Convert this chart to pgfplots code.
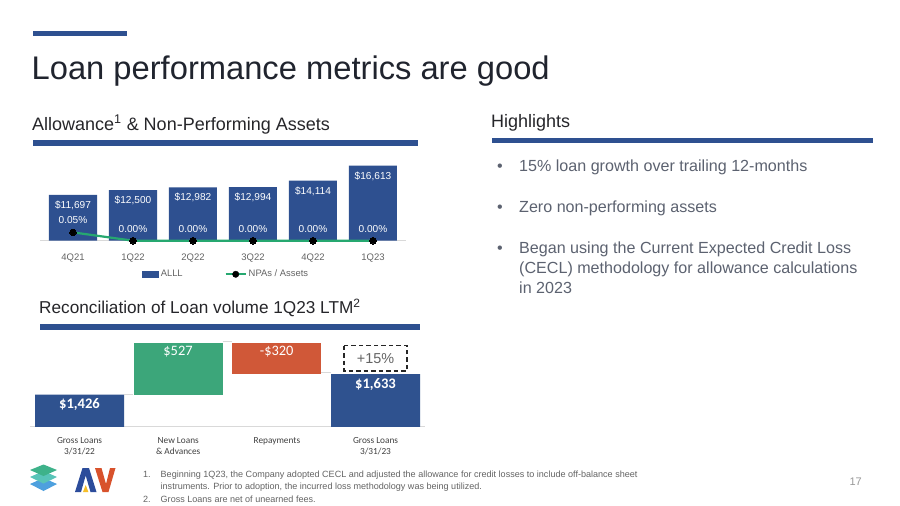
\documentclass[border=0pt]{standalone}
\usepackage{fontspec}
\setmainfont{Liberation Sans}
\newfontfamily\carlito{Carlito}
\usepackage{pgfplots}
\pgfplotsset{compat=1.18}

\definecolor{navy}{RGB}{46,80,144}
\definecolor{wfblue}{RGB}{47,82,143}
\definecolor{wfgreen}{RGB}{60,166,122}
\definecolor{wforange}{RGB}{208,88,56}
\definecolor{linegreen}{RGB}{38,168,112}
\definecolor{titlecol}{RGB}{32,36,46}
\definecolor{headcol}{RGB}{38,38,42}
\definecolor{tickgrey}{RGB}{100,100,100}
\definecolor{bulletcol}{RGB}{92,98,112}
\definecolor{wflab}{RGB}{64,64,64}
\definecolor{axgrey}{RGB}{217,217,217}
\definecolor{stackgreen}{RGB}{62,178,138}
\definecolor{stackteal}{RGB}{88,196,184}
\definecolor{stackblue}{RGB}{78,160,222}
\definecolor{logoblue}{RGB}{44,76,155}
\definecolor{logoorange}{RGB}{216,82,44}
\definecolor{logoyellow}{RGB}{246,190,40}

\newcommand{\fs}[1]{\fontsize{#1}{1.2\dimexpr #1pt\relax}\selectfont}

\begin{document}
\begin{tikzpicture}
% ---------- decoration and text (pixel coordinates, y downwards) ----------
\begin{scope}[x=1pt,y=-1pt]
\path[use as bounding box] (0,0) rectangle (900,506);
\fill[white] (0,0) rectangle (900,506);
% top bar and title
\fill[navy] (33,31) rectangle (127,36);
\node[anchor=base west, inner sep=0, text=titlecol, font=\fs{32.7}] at (31.5,79) {Loan performance metrics are good};
% section headers
\node[anchor=base west, inner sep=0, text=headcol, font=\fs{18}] at (32,130) {Allowance\textsuperscript{1} \& Non-Performing Assets};
\fill[navy] (33,140) rectangle (418,145.5);
\node[anchor=base west, inner sep=0, text=headcol, font=\fs{18}] at (491,127) {Highlights};
\fill[navy] (492,137.7) rectangle (873,143.2);
\node[anchor=base west, inner sep=0, text=headcol, font=\fs{17.2}] at (39,313.3) {Reconciliation of Loan volume 1Q23 LTM\textsuperscript{2}};
\fill[navy] (40,324.3) rectangle (420,329.8);
% bullets
\begin{scope}[every node/.style={anchor=base west, inner sep=0, text=bulletcol, font=\fs{16.1}}]
\node at (497,171.7) {•};
\node at (519,171.7) {15\% loan growth over trailing 12-months};
\node at (497,212.3) {•};
\node at (519,212.3) {Zero non-performing assets};
\node at (497,253.3) {•};
\node at (519,253.3) {Began using the Current Expected Credit Loss};
\node at (519,273.3) {(CECL) methodology for allowance calculations};
\node at (519,293.3) {in 2023};
\end{scope}
% footnotes
\begin{scope}[every node/.style={anchor=base west, inner sep=0, text=tickgrey, font=\fs{9.05}}]
\node at (143,477) {1.};
\node at (160.5,477) {Beginning 1Q23, the Company adopted CECL and adjusted the allowance for credit losses to include off-balance sheet};
\node at (160.5,489.5) {instruments. Prior to adoption, the incurred loss methodology was being utilized.};
\node at (143,502) {2.};
\node at (160.5,502) {Gross Loans are net of unearned fees.};
\end{scope}
\node[anchor=base east, inner sep=0, text=black!40, font=\fs{11}] at (862,485) {17};
% logo
\fill[stackblue] (30,484) -- (43.5,478) -- (57,484) -- (43.5,491) -- cycle;
\fill[stackteal] (30,477) -- (43.5,471) -- (57,477) -- (43.5,483.5) -- cycle;
\fill[stackgreen] (30,470) -- (43.5,464.5) -- (57,470) -- (43.5,476) -- cycle;
\fill[logoblue] (75,492) -- (82.5,468) -- (89,468) -- (96.5,492) -- (90.5,492) -- (85.7,475.5) -- (81,492) -- cycle;
\fill[logoyellow] (83,492) -- (85.7,485) -- (88.4,492) -- cycle;
\fill[logoorange] (95,468) -- (101.5,468) -- (106,484) -- (110,468) -- (115.5,468) -- (108.5,492) -- (102.5,492) -- cycle;
\end{scope}

% ---------- Allowance bars ----------
\begin{axis}[
  at={(40pt,-240.7pt)}, anchor=south west, scale only axis,
  width=366pt, height=83.3pt,
  xmin=-0.55, xmax=5.55, ymin=4000, ymax=18000,
  axis x line*=bottom, axis y line=none,
  x axis line style={draw=axgrey, line width=0.8pt, -},
  xtick={0,1,2,3,4,5},
  xticklabels={4Q21,1Q22,2Q22,3Q22,4Q22,1Q23},
  major tick length=0pt,
  xticklabel style={font=\fs{9.5}, text=tickgrey, yshift=-9.2pt},
  ybar, bar width=48pt, bar shift=0pt,
  nodes near coords, point meta=explicit symbolic,
  every node near coord/.append style={anchor=center, yshift=-10.5pt, font=\fs{10.1}, text=white},
  legend style={at={(0.508,-0.403)}, anchor=center, draw=none, fill=none,
    legend columns=2, font=\fs{9.4}, text=tickgrey,
    /tikz/every even column/.append style={column sep=40pt}},
]
\addplot[fill=navy, draw=none,
  legend image code/.code={\fill[navy] (0pt,-3.5pt) rectangle (17pt,3.5pt);}]
  coordinates {(0,11697) [\$11,697] (1,12500) [\$12,500] (2,12982) [\$12,982]
               (3,12994) [\$12,994] (4,14114) [\$14,114] (5,16613) [\$16,613]};
\addlegendentry{ALLL}
\addlegendimage{legend image code/.code={\draw[linegreen, line width=2pt] (0pt,0pt) -- (20pt,0pt); \fill[black] (10pt,0pt) circle (3.2pt);}}
\addlegendentry{NPAs / Assets}
\end{axis}

% ---------- NPAs / Assets line ----------
\begin{axis}[
  at={(40pt,-240.7pt)}, anchor=south west, scale only axis,
  width=366pt, height=83.3pt,
  xmin=-0.55, xmax=5.55, ymin=0, ymax=0.5,
  hide axis, clip=false,
  nodes near coords, point meta=explicit symbolic,
  every node near coord/.append style={anchor=center, yshift=12pt, font=\fs{10.1}, text=white},
]
\addplot[linegreen, line width=2.2pt, mark=*, mark size=3.3pt, mark options={fill=black, draw=black, line width=0pt}]
  coordinates {(0,0.05) [0.05\%] (1,0) [0.00\%] (2,0) [0.00\%] (3,0) [0.00\%] (4,0) [0.00\%] (5,0) [0.00\%]};
\end{axis}

% ---------- Waterfall ----------
\begin{axis}[
  at={(30.2pt,-426.7pt)}, anchor=south west, scale only axis,
  width=394.7pt, height=88.65pt,
  xmin=-0.5, xmax=3.5, ymin=1100, ymax=2000,
  ybar stacked, bar width=89pt,
  axis x line*=bottom, axis y line=none,
  x axis line style={draw=axgrey, line width=0.8pt, -},
  xtick={0,1,2,3},
  xticklabels={{Gross Loans\\3/31/22},{New Loans\\\& Advances},{Repayments},{Gross Loans\\3/31/23}},
  major tick length=0pt,
  xticklabel style={align=center, font=\carlito\fontsize{9.3}{11}\selectfont, text=wflab, yshift=-7.2pt},
]
\addplot[draw=none, fill=none] coordinates {(0,0) (1,1426) (2,1633) (3,0)};
\addplot[fill=wfblue, draw=none] coordinates {(0,1426) (1,0) (2,0) (3,1633)};
\addplot[fill=wfgreen, draw=none] coordinates {(0,0) (1,527) (2,0) (3,0)};
\addplot[fill=wforange, draw=none] coordinates {(0,0) (1,0) (2,320) (3,0)};
\end{axis}

% ---------- waterfall annotations (on top) ----------
\begin{scope}[x=1pt,y=-1pt]
\draw[axgrey, line width=0.6pt] (124,394.3) -- (133.3,394.3);
\draw[axgrey, line width=0.6pt] (222.7,341.7) -- (232.3,341.7);
\draw[axgrey, line width=0.6pt] (321,372.7) -- (331,372.7);
\draw[black!85, line width=1.4pt, dash pattern=on 4.5pt off 3pt] (344,345.7) rectangle (407,371);
\node[text=tickgrey, font=\fs{14.4}] at (375.5,358.5) {+15\%};
\node[text=white, font=\carlito\bfseries\fs{14.6}] at (79.5,405) {\$1,426};
\node[text=white, font=\carlito\fs{14.4}] at (178,351.7) {\$527};
\node[text=white, font=\carlito\fs{14.4}] at (276.7,351.7) {-\$320};
\node[text=white, font=\carlito\bfseries\fs{14.6}] at (375.5,384.3) {\$1,633};
\end{scope}
\end{tikzpicture}
\end{document}
